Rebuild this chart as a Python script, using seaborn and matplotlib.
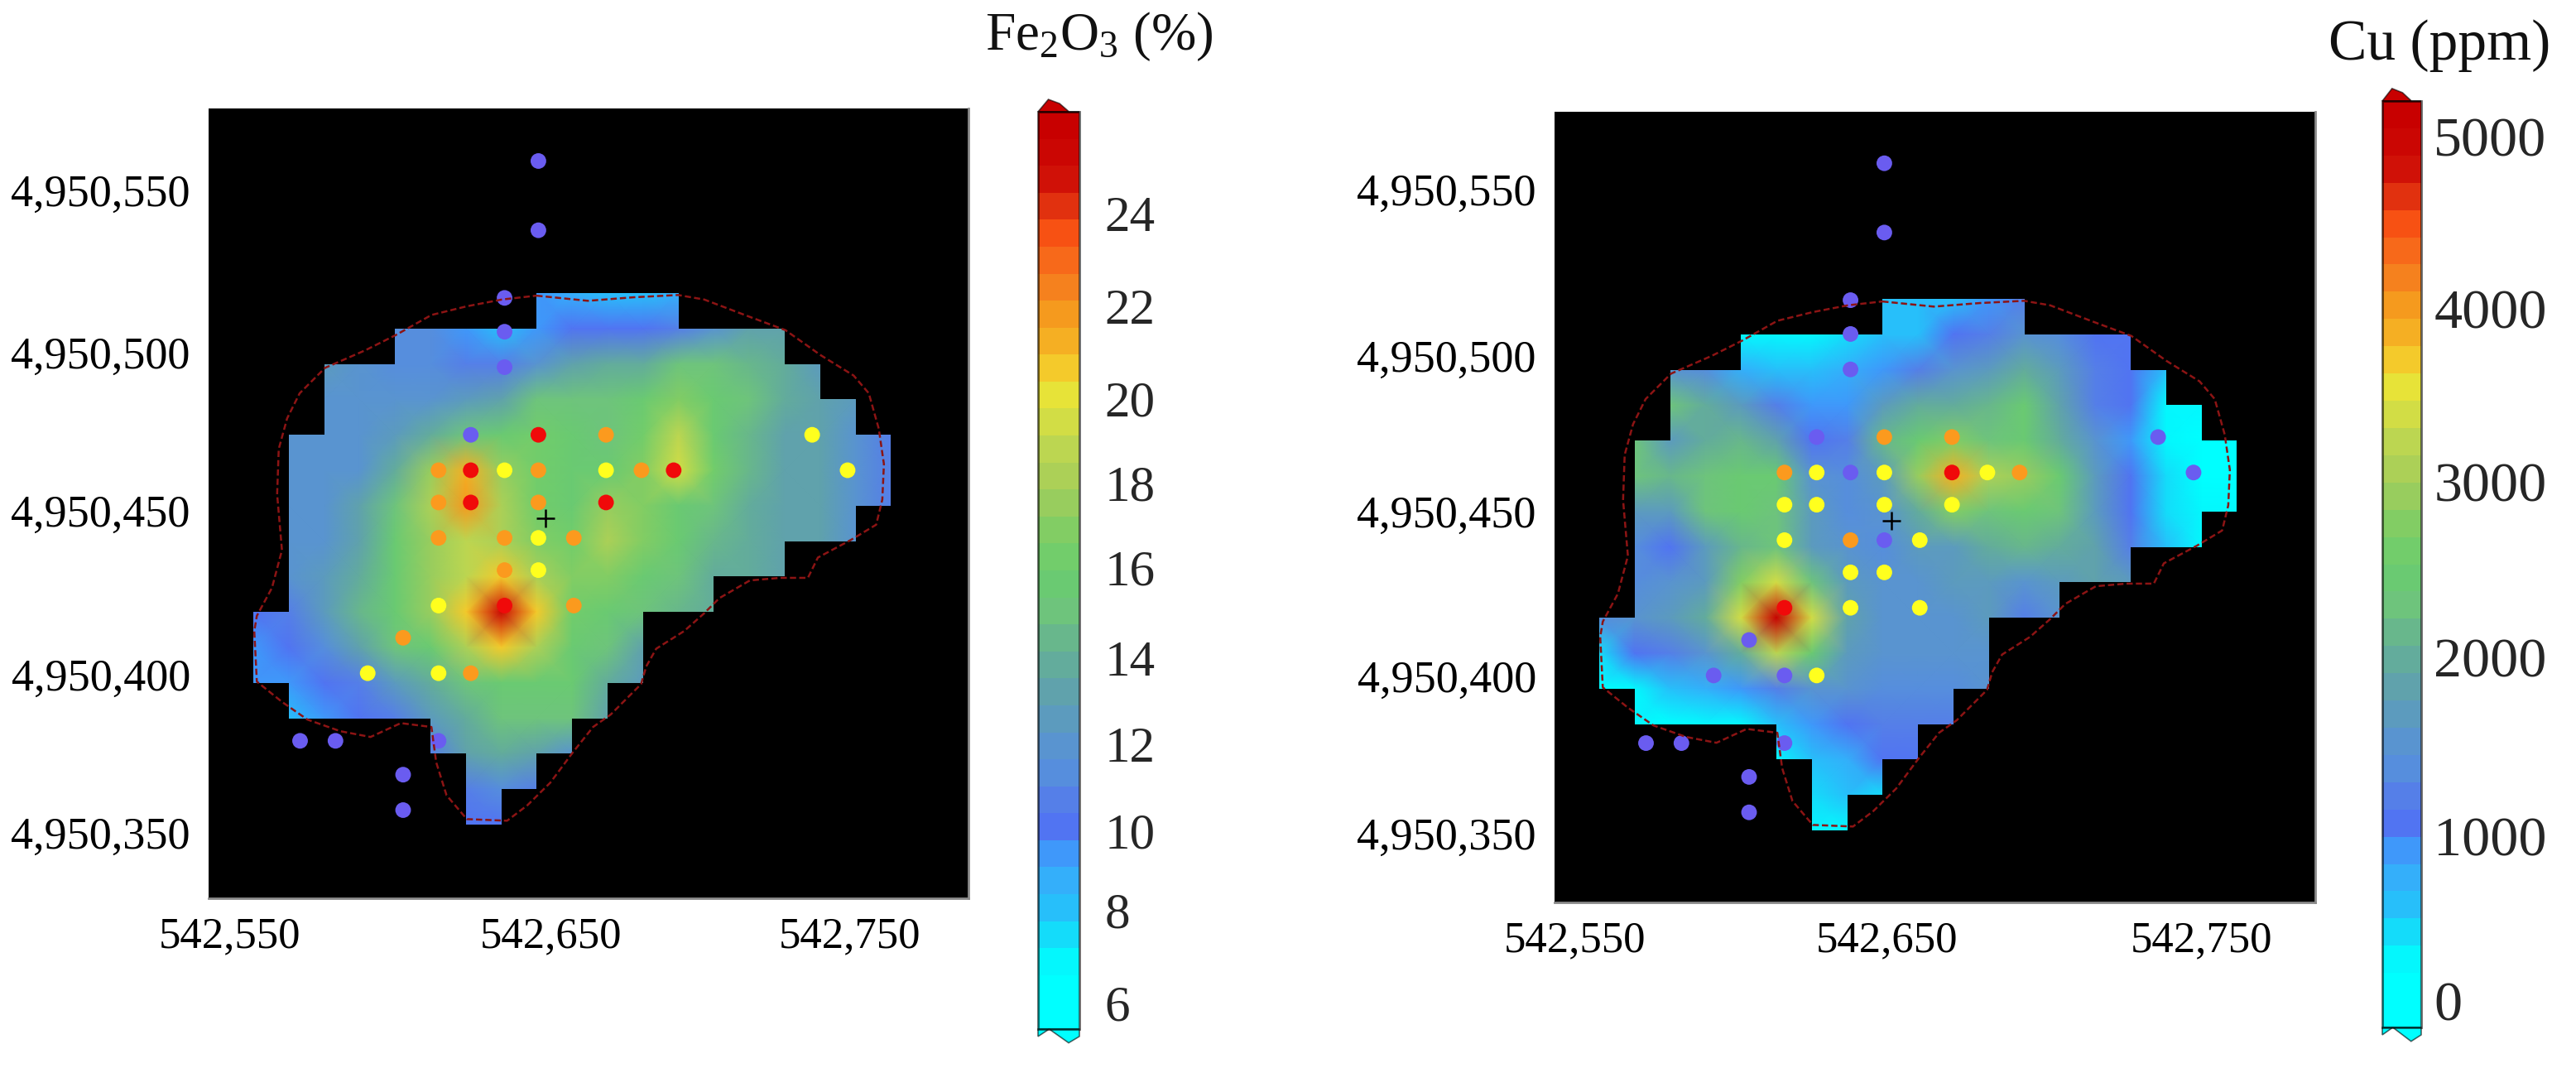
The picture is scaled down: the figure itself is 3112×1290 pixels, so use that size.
import matplotlib
matplotlib.use('Agg')
import matplotlib.pyplot as plt
import numpy as np
import pandas as pd
import seaborn as sns
from matplotlib.colors import LinearSegmentedColormap
from matplotlib.path import Path

n = np.nan

# values at the corners of the 11 m grid blocks, top row first, 19 columns
fe_nodes = [
    [n, n, n, n, n, n, n, n, 9.5, 9, 8, 8, 9, n, n, n, n, n, n],
    [n, n, n, n, 11.5, 11.5, 9.5, 8.5, 9.5, 10, 10, 10, 11, 12, 13, 13, n, n, n],
    [n, n, 12.5, 12, 11.5, 11.5, 11, 10.5, 12, 13, 14, 14, 15, 15, 14.5, 14, 12.5, n, n],
    [n, n, 12, 12, 12, 12, 12.5, 13, 15, 15, 15, 16, 17, 16, 15, 14, 13, 12.5, n],
    [n, 12, 12, 12, 12.5, 14, 15, 15.5, 16.5, 16, 15, 16.5, 19, 16, 14.5, 13.5, 13, 12, 11],
    [n, 12, 12, 12, 14, 17.5, 21.5, 17.5, 16.5, 16, 16, 17, 19.5, 16.5, 14.5, 13.5, 13, 12, 11],
    [n, 12, 12, 13, 15, 18, 22, 18, 16.5, 16, 17.5, 17, 16, 15, 14, 13.5, 13, 12, 11],
    [n, 12, 12, 13.5, 15.5, 17.5, 19, 18.5, 17, 16.5, 18.5, 17, 15.5, 14.5, 14, 13.5, 13, 12, n],
    [n, 12, 12.5, 14, 16, 17.5, 19, 20.5, 18.5, 17, 17, 16, 15, 14, 14, 13.5, n, n, n],
    [10, 11, 12.5, 14.5, 16, 17.5, 20.5, 26, 20.5, 16.5, 16, 15, 14.5, 14, n, n, n, n, n],
    [9.5, 10, 11.5, 13.5, 15, 15.5, 18, 20.5, 18, 16, 15, 13.5, n, n, n, n, n, n, n],
    [9.5, 9.5, 10, 11, 12.5, 14, 15, 16, 15.5, 15.5, 14, 12.5, n, n, n, n, n, n, n],
    [n, 8.5, 9.5, 10, 11, 12.5, 14, 15, 15, 15, 13, n, n, n, n, n, n, n, n],
    [n, n, n, n, n, 11, 13, 14, 13.5, 12, n, n, n, n, n, n, n, n, n],
    [n, n, n, n, n, n, 11, 11.5, 10.5, n, n, n, n, n, n, n, n, n, n],
    [n, n, n, n, n, n, 10, 10, n, n, n, n, n, n, n, n, n, n, n],
]

cu_nodes = [
    [n, n, n, n, n, n, n, n, 600, 500, 600, 900, 1100, n, n, n, n, n, n],
    [n, n, n, n, 300, 250, 250, 450, 500, 600, 1000, 1150, 1500, 1400, 1050, 1050, n, n, n],
    [n, n, 1500, 1400, 750, 500, 500, 700, 850, 1100, 1450, 1700, 2000, 1600, 1200, 950, 500, n, n],
    [n, n, 2200, 1900, 1700, 1150, 800, 900, 1700, 1950, 1950, 2050, 2400, 1800, 1250, 950, 300, 200, n],
    [n, 2200, 1600, 1900, 2050, 1800, 1000, 1200, 2050, 2500, 2700, 2300, 2400, 1950, 1500, 900, 300, 100, 0],
    [n, 2200, 2050, 2200, 2400, 2400, 1500, 1300, 1700, 2900, 3800, 3000, 2900, 2500, 1700, 950, 350, 150, 0],
    [n, 1600, 1700, 2300, 2400, 2200, 1700, 1350, 1500, 1950, 2700, 2300, 2400, 2200, 1700, 1000, 400, 300, 200],
    [n, 1300, 1050, 1700, 2050, 2300, 1600, 1500, 1350, 1600, 1700, 1900, 2050, 1950, 1800, 1200, 600, 300, n],
    [n, 1350, 1500, 1700, 2700, 3300, 2300, 1600, 1500, 1500, 1600, 1700, 1500, 1700, 1800, 1700, n, n, n],
    [1350, 1500, 1700, 2000, 3400, 5200, 3300, 1800, 1500, 1500, 1500, 1600, 1150, 1500, n, n, n, n, n],
    [400, 950, 1100, 1500, 1900, 3200, 2400, 1700, 1500, 1500, 1500, 1500, n, n, n, n, n, n, n],
    [150, 300, 500, 750, 850, 1100, 1500, 1500, 1400, 1400, 1350, 1500, n, n, n, n, n, n, n],
    [n, 200, 100, 200, 300, 500, 850, 1050, 1150, 1200, 1150, n, n, n, n, n, n, n, n],
    [n, n, n, n, n, 300, 500, 750, 1000, 1050, n, n, n, n, n, n, n, n, n],
    [n, n, n, n, n, n, 400, 500, 400, n, n, n, n, n, n, n, n, n, n],
    [n, n, n, n, n, n, 300, 250, n, n, n, n, n, n, n, n, n, n, n],
]

# first and last+1 column of the blocks that hold a value, one pair per row
block_start = [8, 4, 2, 2, 1, 1, 1, 1, 1, 0, 0, 1, 5, 6, 6]
block_stop = [12, 15, 16, 17, 18, 18, 17, 15, 13, 11, 11, 10, 9, 8, 7]

# sample points, metres (east - 542000, north - 4950000)
point_east = [646, 646, 635.5, 635.5, 635.5,
              625, 646, 667, 731,
              615, 625, 635.5, 646, 667, 678, 688, 742,
              615, 625, 646, 667,
              615, 635.5, 646, 657,
              635.5, 646,
              615, 635.5, 657,
              604,
              593, 615, 625,
              572, 583, 615, 604, 604]
point_north = [559, 537.5, 516.5, 506, 495,
               474, 474, 474, 474,
               463, 463, 463, 463, 463, 463, 463, 463,
               453, 453, 453, 453,
               442, 442, 442, 442,
               432, 432,
               421, 421, 421,
               411,
               400, 400, 400,
               379, 379, 379, 368.5, 357.5]
fe_class = ['blue', 'blue', 'blue', 'blue', 'blue',
            'blue', 'red', 'orange', 'yellow',
            'orange', 'red', 'yellow', 'orange', 'yellow', 'orange', 'red', 'yellow',
            'orange', 'red', 'orange', 'red',
            'orange', 'orange', 'yellow', 'orange',
            'orange', 'yellow',
            'yellow', 'red', 'orange',
            'orange',
            'yellow', 'yellow', 'orange',
            'blue', 'blue', 'blue', 'blue', 'blue']
cu_class = ['blue', 'blue', 'blue', 'blue', 'blue',
            'blue', 'orange', 'orange', 'blue',
            'orange', 'yellow', 'blue', 'yellow', 'red', 'yellow', 'orange', 'blue',
            'yellow', 'yellow', 'yellow', 'yellow',
            'yellow', 'orange', 'blue', 'yellow',
            'yellow', 'yellow',
            'red', 'yellow', 'yellow',
            'blue',
            'blue', 'blue', 'yellow',
            'blue', 'blue', 'blue', 'blue', 'blue']
class_colors = {'blue': '#6a5cf0', 'yellow': '#ffff1e', 'orange': '#fb9a1e', 'red': '#f00a0a'}

# pit outline, same metres as the points
outline_east = [645.6, 661.6, 675.8, 689.6, 697.7, 710.3, 722.9, 733.9, 744.1, 748.8,
                751.9, 753.5, 753, 751.1, 743.3, 733, 729.9, 721.3, 711.9, 702.4,
                697.7, 691.5, 682.8, 679.7, 678.1, 668.7, 663.2, 656.9, 649.9, 642.8,
                636.5, 624, 617.7, 614.5, 613, 603.5, 594.1, 584.7, 574.5, 566.6,
                558.8, 558, 558.8, 563.5, 566.6, 565.1, 565.6, 568.2, 572.1, 580,
                592.6, 602, 613, 624, 634.9, 645.6]
outline_north = [517.2, 515.6, 516.7, 517.4, 516, 511.2, 506.5, 498.7, 492.4, 486.9,
                 475.9, 464.9, 453.9, 446.1, 441.4, 435.9, 429.6, 429.6, 428.8, 423.3,
                 418.6, 413.1, 407.6, 402.1, 396.6, 387.2, 383.3, 375.4, 366, 359,
                 354.2, 354.7, 362.1, 372.3, 383.3, 384.5, 380.2, 382, 385.6, 391.1,
                 397.4, 413.1, 417.8, 426.5, 438.2, 455.5, 469.6, 479.1, 486.9, 494.8,
                 500.3, 505, 511.2, 513.9, 516, 517.2]
cross_east = 648.3
cross_north = 448

east_labels = ['542,550', '542,650', '542,750']
north_labels = ['4,950,550', '4,950,500', '4,950,450', '4,950,400', '4,950,350']

fe_east_ticks = [550.5, 650, 743]
fe_north_ticks = [550, 499.5, 450.5, 399.5, 350.5]
cu_east_ticks = [550, 647, 744.7]
cu_north_ticks = [552, 500.5, 452, 401, 352]

fe_bar_ticks = [6, 8, 10, 12, 14, 16, 18, 20, 22, 24, 26]
fe_bar_labels = ['6', '8', '10', '12', '14', '16', '18', '20', '22', '24']
fe_label_at = [6, 8.15, 10, 12, 14, 16.1, 18.05, 20, 22.15, 24.3]
cu_bar_ticks = [0, 500, 1000, 1500, 2000, 2500, 3000, 3500, 4000, 4500, 5000]
cu_bar_labels = ['0', '1000', '2000', '3000', '4000', '5000']
cu_label_at = [0, 946, 1972, 2980, 3973, 4962]

# colour scale
stop_values = [5.4, 6.5, 7, 8, 9, 9.5, 10, 11, 12, 13, 14, 15, 16, 17, 18, 19, 20, 20.5,
               21, 22, 23, 24, 24.7, 25.5, 26.65]
stop_colors = ['#00ffff', '#00ffff', '#0aebfa', '#28befa', '#3ca5fa', '#418cfa', '#556ef0',
               '#558ce1', '#5a96cd', '#5fa0af', '#64af96', '#6ec37d', '#69cd6e', '#82cd64',
               '#a5cd5a', '#bed750', '#e1e13c', '#f0e632', '#f5be28', '#f5a01e', '#f5781e',
               '#fa5514', '#e1320f', '#cd0a05', '#c80000']

sns.set_theme(style='white')
plt.rcParams['font.family'] = ['Liberation Serif', 'DejaVu Serif']
plt.rcParams['mathtext.default'] = 'regular'

stops = [(v - stop_values[0]) / (stop_values[-1] - stop_values[0]) for v in stop_values]
scale = LinearSegmentedColormap.from_list('fe_cu', list(zip(stops, stop_colors)), N=34)

W, H = 3112, 1290
fig = plt.figure(figsize=(W / 100, H / 100), dpi=100)


def box(x0, y0, x1, y1):
    return [x0 / W, 1 - y1 / H, (x1 - x0) / W, (y1 - y0) / H]


def draw_panel(nodes, classes, rect, bar_rect, vmin, vmax, block_px, point_shift, east_ticks,
               north_ticks, bar_ticks, label_at, bar_labels, bar_pad, font):
    ax = fig.add_axes(box(*rect))
    cax = fig.add_axes(box(*bar_rect))
    ax.set_facecolor('black')

    sns.heatmap(pd.DataFrame(nodes), ax=ax, cbar_ax=cax, cmap=scale, vmin=vmin, vmax=vmax,
                shading='gouraud', xticklabels=False, yticklabels=False)

    # the map only shows on the grid blocks
    verts, codes = [], []
    for row, (c0, c1) in enumerate(zip(block_start, block_stop)):
        verts += [(c0, row), (c1, row), (c1, row + 1), (c0, row + 1), (c0, row)]
        codes += [Path.MOVETO, Path.LINETO, Path.LINETO, Path.LINETO, Path.CLOSEPOLY]
    ax.collections[0].set_clip_path(Path(verts, codes), transform=ax.transData)

    to_col = lambda e: (np.asarray(e, dtype=float) - 557.7) / 11
    to_row = lambda v: (518 - np.asarray(v, dtype=float)) / 11

    sns.lineplot(x=to_col(outline_east), y=to_row(outline_north), sort=False, estimator=None,
                 color='#8c1414', linestyle=(0, (3, 1.5)), linewidth=1.8, ax=ax)
    sns.scatterplot(x=to_col(point_east) + 0.02, y=to_row(point_north) - point_shift, hue=classes,
                    palette=class_colors, s=185, linewidth=0, legend=False, ax=ax)
    sns.scatterplot(x=[to_col(cross_east)], y=[to_row(cross_north) - point_shift], marker='+',
                    color='black', s=260, linewidth=1.8, ax=ax)

    x0, y0, x1, y1 = rect
    bx, by, cell = block_px
    ax.set_xlim((x0 - bx) / cell, (x1 - bx) / cell)
    ax.set_ylim((y1 - by) / cell, (y0 - by) / cell)

    ax.set_xticks(to_col(east_ticks), east_labels)
    ax.set_yticks(to_row(north_ticks), north_labels)
    ax.tick_params(length=0, colors='black')
    ax.tick_params(axis='x', pad=16, labelsize=38)
    ax.tick_params(axis='y', pad=16, labelsize=39)
    for side in ['top', 'left']:
        ax.spines[side].set_visible(False)
    for side in ['bottom', 'right']:
        ax.spines[side].set_visible(True)
        ax.spines[side].set_color('#8a8a8a')
        ax.spines[side].set_linewidth(2)

    # marks on the bar are minor ticks, the labels sit a little off them
    cax.set_yticks(label_at, bar_labels)
    cax.set_yticks(bar_ticks, minor=True)
    cax.tick_params(which='major', length=0, labelsize=font, pad=bar_pad, right=True, left=False)
    cax.tick_params(which='minor', direction='in', length=9.5, width=1.6, left=True, right=True,
                    color='#101010')
    cax.spines['outline'].set_visible(True)
    cax.spines['outline'].set_linewidth(2)
    cax.spines['outline'].set_edgecolor((0, 0, 0, 0.6))

    # wavy ends of the bar
    top_x = [0, 0.25, 0.52, 0.75, 1]
    top_y = [1, 1.0135, 1.009, 1, 1]
    cax.fill(top_x + [1, 0], top_y + [1, 1], facecolor=scale(1.0), edgecolor=(0, 0, 0, 0.6),
             linewidth=1.2, transform=cax.transAxes, clip_on=False)
    low_x = [0, 0.27, 0.74, 1]
    low_y = [-0.008, 0, -0.015, -0.008]
    cax.fill(low_x + [1, 0], low_y + [0, 0], facecolor=scale(0.0), edgecolor=(0, 0, 0, 0.6),
             linewidth=1.2, transform=cax.transAxes, clip_on=False)


draw_panel(fe_nodes, fe_class, (252, 131, 1170, 1085), (1254, 135, 1304, 1243), 5.4, 26.65,
           (306, 354, 42.8), 0, fe_east_ticks, fe_north_ticks,
           fe_bar_ticks, fe_label_at, fe_bar_labels, 22, 44)
draw_panel(cu_nodes, cu_class, (1878, 135, 2797, 1090), (2878, 122, 2925, 1241), -152, 5166,
           (1932, 361, 42.8), 0.1, cu_east_ticks, cu_north_ticks,
           cu_bar_ticks, cu_label_at, cu_bar_labels, 11, 49)

fig.text(1190 / W, 1 - 44 / H, 'Fe$_2$O$_3$ (%)', fontsize=47, ha='left', va='center', color='#111111')
fig.text(2813 / W, 1 - 55 / H, 'Cu (ppm)', fontsize=50, ha='left', va='center', color='#111111')

fig.savefig('out.png', dpi=100, facecolor='white')
